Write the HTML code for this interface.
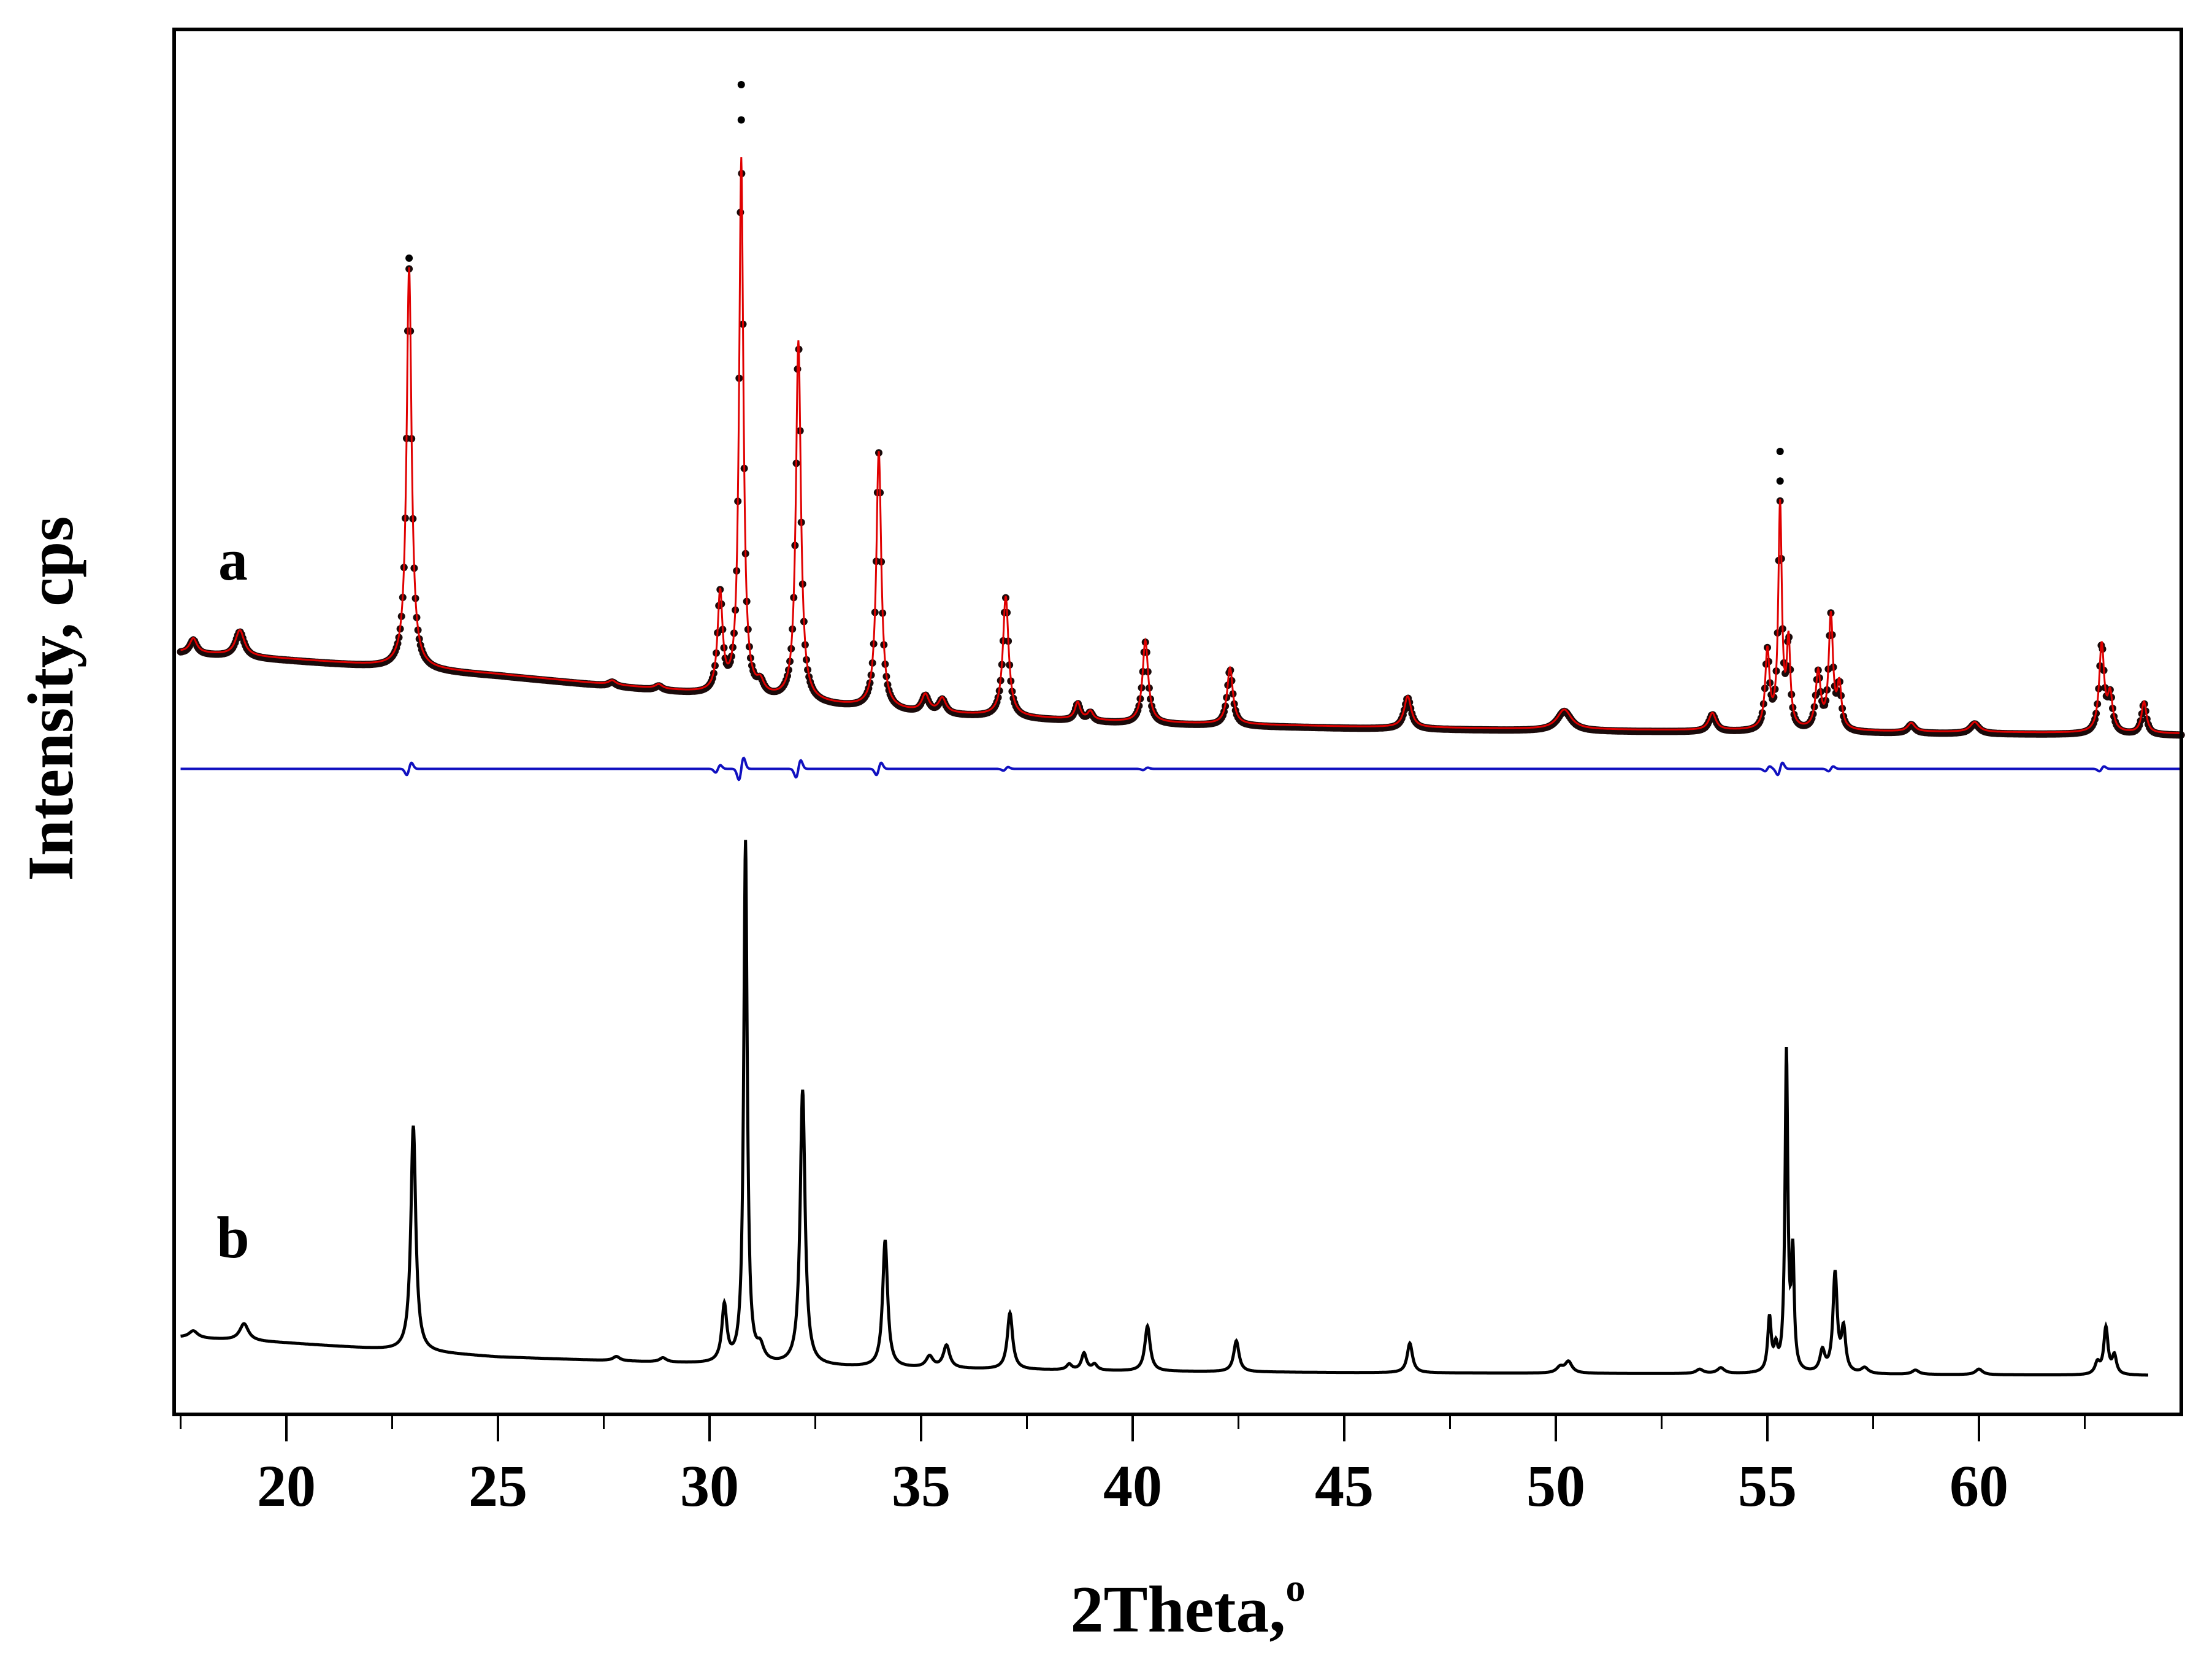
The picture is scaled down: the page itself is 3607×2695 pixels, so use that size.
<!DOCTYPE html>
<html><head><meta charset="utf-8"><style>
html,body{margin:0;padding:0;background:#fff;}
svg{display:block;}
text{font-family:"Liberation Serif",serif;font-weight:bold;fill:#000;}
</style></head><body>
<svg id="chart" width="3607" height="2695" viewBox="0 0 3607 2695" xmlns="http://www.w3.org/2000/svg">
<g id="plot"></g>
<rect x="284" y="48" width="3273" height="2258" fill="none" stroke="#000" stroke-width="6"/>
<g id="xticks"></g>
<text x="1937" y="2660" font-size="108" text-anchor="middle">2Theta,<tspan dy="-50" font-size="64">o</tspan></text>
<text transform="translate(118,1139) rotate(-90)" font-size="106" text-anchor="middle">Intensity, cps</text>
<text x="380" y="945" font-size="96" text-anchor="middle">a</text>
<text x="380" y="2050" font-size="96" text-anchor="middle">b</text>
</svg>
<script>
// Axis tick values
const xTickLabels = [20,25,30,35,40,45,50,55,60];
const xMinorTicks = [17.5,22.5,27.5,32.5,37.5,42.5,47.5,52.5,57.5,62.5];
// Pattern a (refined: observed + calculated), intensity in arbitrary units
const baseAX = [17.5,20,25,30,35,40,45,50,55,60,64.8];
const baseAY = [538,533,522,508,495,488,485,483,482,481,480];
const peakAX = [17.8,18.9,22.9,27.7,28.8,30.25,30.75,31.2,32.1,34.0,35.1,35.5,37.0,38.7,39.0,40.3,42.3,46.5,50.2,53.7,55.0,55.3,55.5,56.2,56.5,56.7,58.4,59.9,62.9,63.1,63.9];
const peakAH = [10,18,284,3,3,70,380,8,255,182,12,10,85,12,6,58,40,22,14,12,55,158,60,40,80,30,6,7,62,25,22];
const peakAW = [0.2,0.25,0.14,0.2,0.2,0.14,0.12,0.2,0.14,0.14,0.2,0.2,0.16,0.15,0.15,0.16,0.16,0.2,0.4,0.2,0.12,0.1,0.1,0.14,0.12,0.12,0.2,0.25,0.14,0.14,0.14];
const extraDotX = [22.9,30.75,30.75,55.3,55.3];
const extraDotI = [817,915,940,680,659];
// Difference curve spikes
const diffX = [22.9,30.2,30.75,32.1,34.0,37.0,40.3,55.0,55.3,56.5,62.9];
const diffA = [10,6,18,14,10,3,2,4,10,4,4];
const diffLevel = 455;
// Pattern b
const baseBX = [17.5,20,25,30,35,40,45,64.0];
const baseBY = [52,48,38,33,30,28,27,25];
const peakBX = [17.8,19.0,23.0,27.8,28.9,30.35,30.85,31.2,32.2,34.15,35.2,35.6,37.1,38.5,38.85,39.1,40.35,42.45,46.55,50.1,50.3,53.4,53.9,55.05,55.2,55.45,55.6,56.3,56.6,56.8,57.3,58.5,60.0,62.8,63.0,63.2];
const peakBH = [5,12,160,3,3,40,370,10,195,90,8,16,40,4,12,4,32,22,21,4,8,3,4,38,15,225,80,15,70,30,4,3,4,8,33,13];
const peakBW = [0.25,0.25,0.14,0.2,0.2,0.14,0.1,0.2,0.14,0.14,0.2,0.18,0.15,0.15,0.14,0.15,0.15,0.15,0.15,0.2,0.2,0.2,0.2,0.1,0.1,0.08,0.08,0.14,0.12,0.12,0.2,0.2,0.2,0.14,0.12,0.12];

const NS = "http://www.w3.org/2000/svg";
const XMAX = 64.8;
function xPx(v){ return 467 + (v-20)*69.0; }
function yPx(I){ return 2.3*(1000 - I); }
function interp(xs, ys, v){
  if (v<=xs[0]) return ys[0];
  for (let i=1;i<xs.length;i++) if (v<=xs[i]) { const t=(v-xs[i-1])/(xs[i]-xs[i-1]); return ys[i-1]+t*(ys[i]-ys[i-1]); }
  return ys[ys.length-1];
}
function pattern(bx,by,px,ph,pw,v){
  let I = interp(bx,by,v);
  for (let i=0;i<px.length;i++){ const d=(v-px[i])/(pw[i]/2); I += ph[i]/(1+d*d); }
  return I;
}
const plot = document.getElementById('plot');
const ax = document.getElementById('xticks');

xTickLabels.forEach(t=>{
  const l=document.createElementNS(NS,'line');
  l.setAttribute('x1',xPx(t)); l.setAttribute('x2',xPx(t)); l.setAttribute('y1',2306); l.setAttribute('y2',2350);
  l.setAttribute('stroke','#000'); l.setAttribute('stroke-width',4);
  
  
  ax.appendChild(l);
  const tx=document.createElementNS(NS,'text');
  tx.setAttribute('x',xPx(t)); tx.setAttribute('y',2455); tx.setAttribute('font-size',96); tx.setAttribute('text-anchor','middle');
  tx.textContent=t;
  
  
  ax.appendChild(tx);
});
xMinorTicks.forEach(t=>{
  const l=document.createElementNS(NS,'line');
  l.setAttribute('x1',xPx(t)); l.setAttribute('x2',xPx(t)); l.setAttribute('y1',2306); l.setAttribute('y2',2330);
  l.setAttribute('stroke','#000'); l.setAttribute('stroke-width',3);
  
  
  ax.appendChild(l);
});

let dotsPath='';
for (let v=17.5; v<=XMAX; v+=0.03){
  const X=xPx(v), Y=yPx(pattern(baseAX,baseAY,peakAX,peakAH,peakAW,v))+3;
  dotsPath += `M${(X-6).toFixed(1)},${Y.toFixed(1)}a6,6 0 1,0 12,0a6,6 0 1,0 -12,0`;
}
const dots=document.createElementNS(NS,'path');
dots.setAttribute('d',dotsPath); dots.setAttribute('fill','#1a0a0a');


plot.appendChild(dots);
extraDotX.forEach((x,i)=>{
  const c=document.createElementNS(NS,'circle');
  c.setAttribute('cx',xPx(x)); c.setAttribute('cy',yPx(extraDotI[i])); c.setAttribute('r',6); c.setAttribute('fill','#000');
  
  
  plot.appendChild(c);
});
let pts=[];
for (let v=17.5; v<=XMAX; v+=0.01) pts.push(xPx(v).toFixed(1)+','+yPx(pattern(baseAX,baseAY,peakAX,peakAH,peakAW,v)).toFixed(1));
const calc=document.createElementNS(NS,'polyline');
calc.setAttribute('points',pts.join(' ')); calc.setAttribute('fill','none'); calc.setAttribute('stroke','#e00000'); calc.setAttribute('stroke-width',3);


plot.appendChild(calc);
pts=[];
for (let v=17.5; v<=XMAX; v+=0.01){
  let I=diffLevel;
  for (let i=0;i<diffX.length;i++){ const d=(v-diffX[i])/0.08; I += diffA[i]*d*Math.exp(-d*d); }
  pts.push(xPx(v).toFixed(1)+','+yPx(I).toFixed(1));
}
const diff=document.createElementNS(NS,'polyline');
diff.setAttribute('points',pts.join(' ')); diff.setAttribute('fill','none'); diff.setAttribute('stroke','#1010c0'); diff.setAttribute('stroke-width',4);


plot.appendChild(diff);
pts=[];
for (let v=17.5; v<=64.0; v+=0.01) pts.push(xPx(v).toFixed(1)+','+yPx(pattern(baseBX,baseBY,peakBX,peakBH,peakBW,v)).toFixed(1));
const pb=document.createElementNS(NS,'polyline');
pb.setAttribute('points',pts.join(' ')); pb.setAttribute('fill','none'); pb.setAttribute('stroke','#000'); pb.setAttribute('stroke-width',5);


plot.appendChild(pb);
</script>
</body></html>
